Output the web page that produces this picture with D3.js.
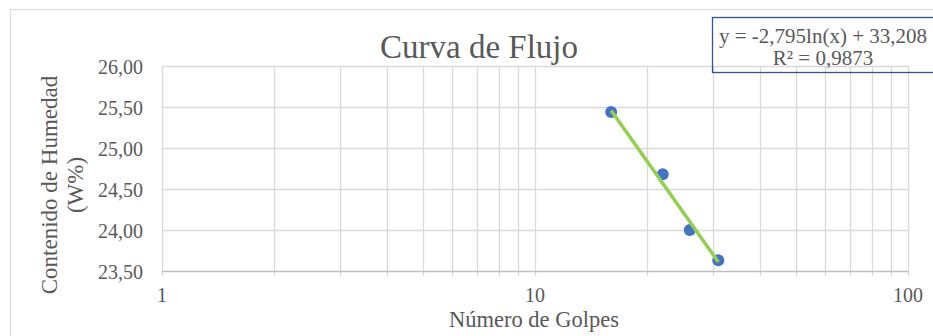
<!DOCTYPE html>
<html>
<head>
<meta charset="utf-8">
<script src="https://cdn.jsdelivr.net/npm/d3@7"></script>
<style>
  body { margin: 0; background: #fff; }
  text { font-family: "Liberation Serif", "Times New Roman", serif; fill: #595959; }
</style>
</head>
<body>
<svg id="chart" width="933" height="336"></svg>
<script>
// golpes vs humedad
var golpes = [16, 22, 26, 31];
var humedad = [25.44, 24.68, 24.00, 23.63];
var yTicks = [23.5, 24, 24.5, 25, 25.5, 26];
var xLabels = [1, 10, 100];
var coefA = -2.795, coefB = 33.208, r2 = "0,9873";

var svg = d3.select("#chart"),
  plotLeft = 162, plotRight = 908, plotTop = 66, plotBottom = 271;

var x = d3.scaleLog().domain([1, 100]).range([plotLeft, plotRight]);
var y = d3.scaleLinear().domain([23.5, 26]).range([plotBottom, plotTop]);
var fmt = function(d) { return d3.format(".2f")(d).replace(".", ","); };

// outer frame
svg.append("rect")
  .attr("x", 10.5).attr("y", 9.5)
  .attr("width", 940).attr("height", 340)
  .attr("fill", "none").attr("stroke", "#d9d9d9");

// vertical grid (log minors)
var xGrid = x.ticks();
svg.append("g").selectAll("line")
  .data(xGrid)
  .enter().append("line")
  .attr("x1", function(d) { return Math.round(x(d)) + 0.5; })
  .attr("x2", function(d) { return Math.round(x(d)) + 0.5; })
  .attr("y1", plotTop).attr("y2", plotBottom + 5)
  .attr("stroke", "#d9d9d9").attr("stroke-width", 1.3);

// horizontal grid
svg.append("g").selectAll("line")
  .data(yTicks)
  .enter().append("line")
  .attr("x1", plotLeft).attr("x2", plotRight)
  .attr("y1", function(d) { return Math.round(y(d)) + 0.5; })
  .attr("y2", function(d) { return Math.round(y(d)) + 0.5; })
  .attr("stroke", function(d) { return d === 23.5 ? "#bfbfbf" : "#d9d9d9"; })
  .attr("stroke-width", 1.3);

// y tick labels
svg.append("g").selectAll("text")
  .data(yTicks)
  .enter().append("text")
  .attr("x", 143)
  .attr("y", function(d) { return y(d) + 8; })
  .attr("text-anchor", "end")
  .attr("font-size", 20)
  .text(fmt);

// x tick labels
svg.append("g").selectAll("text")
  .data(xLabels)
  .enter().append("text")
  .attr("x", function(d) { return x(d); })
  .attr("y", 302)
  .attr("text-anchor", "middle")
  .attr("font-size", 20)
  .text(function(d) { return d; });

// trendline
var trend = d3.range(0, 51).map(function(i) {
  var g = golpes[0] + (golpes[golpes.length - 1] - golpes[0]) * i / 50;
  return [g, coefA * Math.log(g) + coefB];
});

// points
svg.append("g").selectAll("circle")
  .data(golpes)
  .enter().append("circle")
  .attr("cx", function(d) { return x(d); })
  .attr("cy", function(d, i) { return y(humedad[i]); })
  .attr("r", 6)
  .attr("fill", "#4472c4");

// trendline over points like excel
svg.append("path")
  .datum(trend)
  .attr("d", d3.line()
    .x(function(d) { return x(d[0]); })
    .y(function(d) { return y(d[1]); }))
  .attr("fill", "none")
  .attr("stroke", "#92d050")
  .attr("stroke-width", 3.5);

// title
svg.append("text")
  .attr("x", 479).attr("y", 58)
  .attr("text-anchor", "middle")
  .attr("font-size", 33)
  .text("Curva de Flujo");

// axis titles
var yl = svg.append("text")
  .attr("transform", "translate(57,185) rotate(-90)")
  .attr("text-anchor", "middle")
  .attr("font-size", 23);
yl.append("tspan").attr("x", 0).attr("dy", 0).text("Contenido de Humedad");
yl.append("tspan").attr("x", 0).attr("dy", 26).text("(W%)");

svg.append("text")
  .attr("x", 534).attr("y", 327)
  .attr("text-anchor", "middle")
  .attr("font-size", 22.5)
  .text("Número de Golpes");

// equation box
svg.append("rect")
  .attr("x", 712.5).attr("y", 17.5)
  .attr("width", 240).attr("height", 55)
  .attr("fill", "none")
  .attr("stroke", "#2f5597").attr("stroke-width", 1.3);

svg.append("text")
  .attr("x", 823).attr("y", 43)
  .attr("text-anchor", "middle")
  .attr("font-size", 21)
  .text("y = " + String(coefA).replace(".", ",") + "ln(x) + " + String(coefB).replace(".", ","));
svg.append("text")
  .attr("x", 823).attr("y", 65)
  .attr("text-anchor", "middle")
  .attr("font-size", 21)
  .text("R² = " + r2);
</script>
</body>
</html>
